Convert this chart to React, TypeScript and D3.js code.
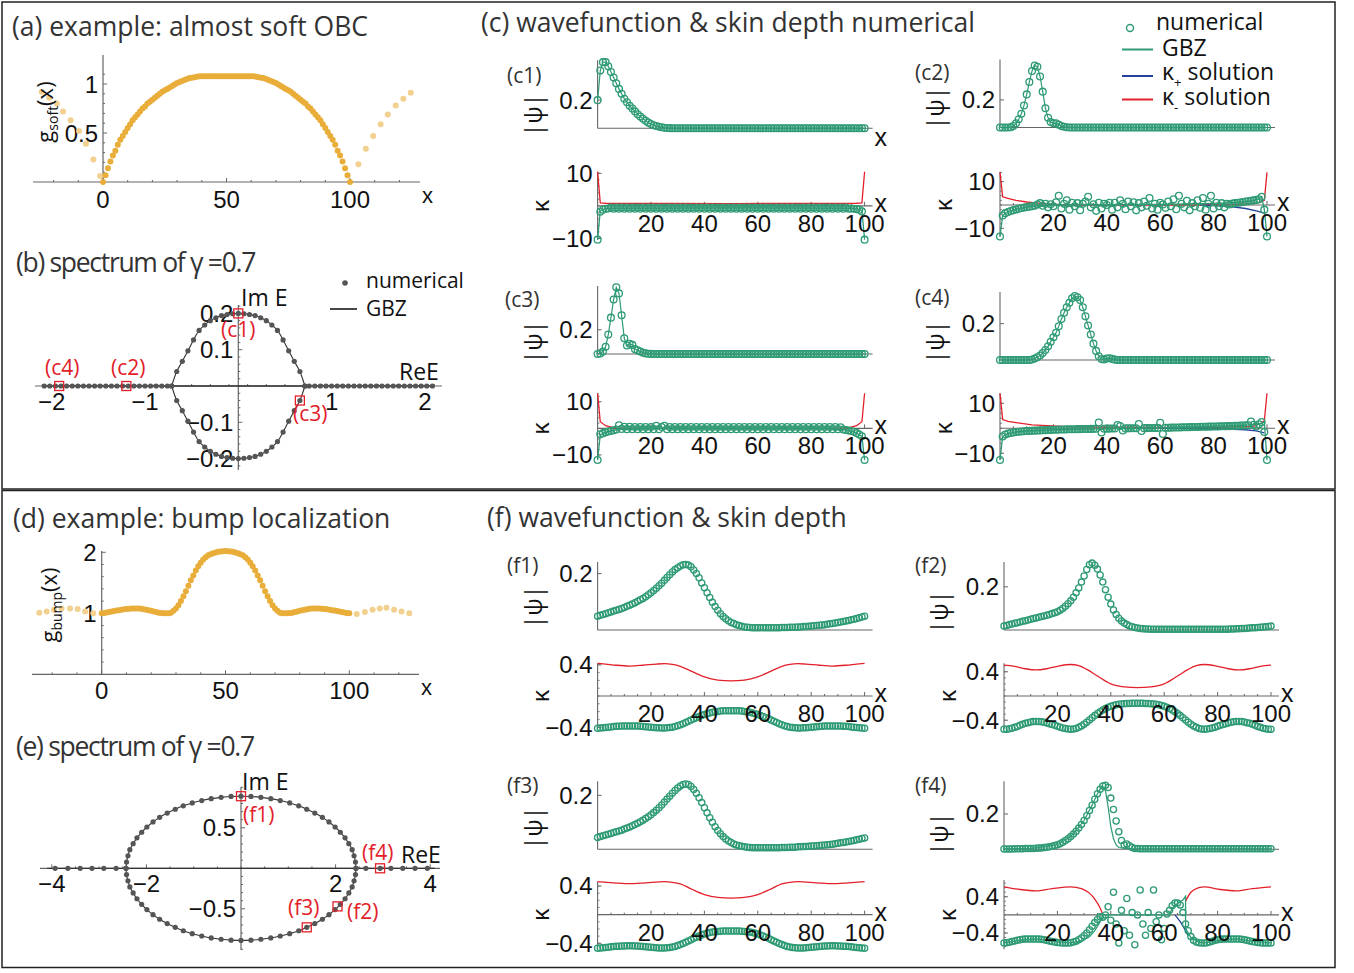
import React from "react";
import * as d3 from "d3";

type Pt = [number, number];

// lattice sites x = 0..100
const sites = d3.range(0, 101);

// ---------- (a) g_soft(x) ----------
const gSoft = [
  0, 0.07, 0.14, 0.21, 0.27, 0.32, 0.38, 0.43, 0.47, 0.51,
  0.55, 0.59, 0.63, 0.66, 0.69, 0.72, 0.75, 0.77, 0.8, 0.82,
  0.84, 0.86, 0.88, 0.9, 0.92, 0.935, 0.95, 0.965, 0.98, 0.995,
  1.01, 1.02, 1.03, 1.04, 1.05, 1.06, 1.065, 1.07, 1.075, 1.08,
  1.08, 1.08, 1.08, 1.08, 1.08, 1.08, 1.08, 1.08, 1.08, 1.08,
  1.08, 1.08, 1.08, 1.08, 1.08, 1.08, 1.08, 1.08, 1.08, 1.08,
  1.08, 1.08, 1.075, 1.07, 1.065, 1.06, 1.05, 1.04, 1.03, 1.02,
  1.01, 0.995, 0.98, 0.965, 0.95, 0.935, 0.92, 0.9, 0.88, 0.86,
  0.84, 0.82, 0.8, 0.77, 0.75, 0.72, 0.69, 0.66, 0.63, 0.59,
  0.55, 0.51, 0.47, 0.43, 0.38, 0.32, 0.27, 0.21, 0.14, 0.07,
  0,
];
const gSoftOutX = [-24.8, -21.8, -18.7, -16.2, -13.1, -9.7, -6.9, -3.9, -1.2, 103.4, 106.4, 109.4, 112.4, 115.3, 118.5, 121.6, 124.6];
const gSoftOutY = [0.92, 0.86, 0.8, 0.72, 0.63, 0.52, 0.39, 0.23, 0.06, 0.18, 0.34, 0.47, 0.59, 0.69, 0.78, 0.85, 0.91];

// ---------- (d) g_bump(x) ----------
const gBump = [
  1.0, 1.005, 1.012, 1.02, 1.028, 1.036, 1.044, 1.052, 1.06, 1.066,
  1.072, 1.076, 1.079, 1.08, 1.08, 1.078, 1.074, 1.068, 1.06, 1.05,
  1.04, 1.03, 1.02, 1.01, 1.004, 1.0, 1.0, 1.0, 1.01, 1.04,
  1.08, 1.13, 1.2, 1.28, 1.36, 1.45, 1.54, 1.62, 1.7, 1.77,
  1.83, 1.88, 1.92, 1.95, 1.97, 1.985, 1.997, 2.007, 2.014, 2.018,
  2.02, 2.018, 2.014, 2.007, 1.997, 1.985, 1.97, 1.95, 1.92, 1.88,
  1.83, 1.77, 1.7, 1.62, 1.54, 1.45, 1.36, 1.28, 1.2, 1.13,
  1.08, 1.04, 1.01, 1.0, 1.0, 1.0, 1.004, 1.01, 1.02, 1.03,
  1.04, 1.05, 1.06, 1.068, 1.074, 1.078, 1.08, 1.08, 1.079, 1.076,
  1.072, 1.066, 1.06, 1.052, 1.044, 1.036, 1.028, 1.02, 1.012, 1.005,
  1.0,
];
const gBumpOutX = [-25.2, -22.2, -19.3, -16.2, -12.8, -9.7, -6.7, -3.4, 103, 106.3, 109.4, 112.3, 115, 118.1, 121.1, 124.2];
const gBumpOutY = [1.01, 1.03, 1.06, 1.08, 1.08, 1.07, 1.03, 1.0, 0.99, 1.02, 1.06, 1.08, 1.09, 1.06, 1.03, 1.0];

// ---------- (b) spectrum, soft OBC ----------
const specBArcX = [-0.714, -0.66, -0.6, -0.54, -0.48, -0.42, -0.36, -0.3, -0.24, -0.18, -0.12, -0.06, 0, 0.06, 0.12, 0.18, 0.24, 0.3, 0.36, 0.42, 0.48, 0.54, 0.6, 0.66, 0.714];
const specBUpperY = [0, 0.04, 0.068, 0.097, 0.127, 0.153, 0.168, 0.18, 0.188, 0.194, 0.197, 0.199, 0.2, 0.199, 0.197, 0.194, 0.188, 0.18, 0.168, 0.153, 0.127, 0.097, 0.068, 0.04, 0];
const specBLowerY = [0, -0.04, -0.068, -0.097, -0.127, -0.153, -0.168, -0.18, -0.188, -0.194, -0.197, -0.199, -0.2, -0.199, -0.197, -0.194, -0.188, -0.18, -0.168, -0.153, -0.127, -0.097, -0.068, -0.04, 0];
const specBRealX = [
  -2.08, -2.02, -1.96, -1.9, -1.84, -1.78, -1.72, -1.66, -1.6, -1.54, -1.48, -1.42, -1.36, -1.3, -1.24, -1.18, -1.12, -1.06, -1.0, -0.94, -0.88, -0.82, -0.76,
  0.76, 0.82, 0.88, 0.94, 1.0, 1.06, 1.12, 1.18, 1.24, 1.3, 1.36, 1.42, 1.48, 1.54, 1.6, 1.66, 1.72, 1.78, 1.84, 1.9, 1.96, 2.02, 2.08,
];
const markBTags = ["(c1)", "(c2)", "(c3)", "(c4)"];
const markBX = [0, -1.2, 0.66, -1.92];
const markBY = [0.2, 0, -0.04, 0];

// ---------- (e) spectrum, bump ----------
const specEArcX = [-2.43, -2.42, -2.39, -2.35, -2.28, -2.2, -2.1, -1.99, -1.86, -1.72, -1.56, -1.39, -1.22, -1.03, -0.83, -0.63, -0.42, -0.21, 0, 0.21, 0.42, 0.63, 0.83, 1.03, 1.22, 1.39, 1.56, 1.72, 1.86, 1.99, 2.1, 2.2, 2.28, 2.35, 2.39, 2.42, 2.43];
const specEUpperY = [0, 0.078, 0.155, 0.23, 0.304, 0.376, 0.445, 0.51, 0.572, 0.629, 0.682, 0.729, 0.771, 0.807, 0.836, 0.86, 0.876, 0.887, 0.89, 0.887, 0.876, 0.86, 0.836, 0.807, 0.771, 0.729, 0.682, 0.629, 0.572, 0.51, 0.445, 0.376, 0.304, 0.23, 0.155, 0.078, 0];
const specELowerY = [0, -0.078, -0.155, -0.23, -0.304, -0.376, -0.445, -0.51, -0.572, -0.629, -0.682, -0.729, -0.771, -0.807, -0.836, -0.86, -0.876, -0.887, -0.89, -0.887, -0.876, -0.86, -0.836, -0.807, -0.771, -0.729, -0.682, -0.629, -0.572, -0.51, -0.445, -0.376, -0.304, -0.23, -0.155, -0.078, 0];
const specERealX = [-3.93, -3.66, -3.4, -3.15, -2.9, -2.64, 2.64, 2.94, 3.17, 3.42, 3.68, 3.94];
const markETags = ["(f1)", "(f2)", "(f3)", "(f4)"];
const markEX = [0, 2.04, 1.39, 2.94];
const markEY = [0.89, -0.47, -0.729, 0];

// ---------- (c) wavefunctions |psi| ----------
const psiC1 = [
  0.2, 0.41, 0.47, 0.47, 0.44, 0.4, 0.36, 0.32, 0.28, 0.245,
  0.21, 0.185, 0.16, 0.14, 0.12, 0.1, 0.083, 0.068, 0.053, 0.04,
  0.03, 0.022, 0.016, 0.011, 0.007, 0.004, 0.002, 0.001, 0, 0,
  0, 0, 0, 0, 0, 0, 0, 0, 0, 0,
  0, 0, 0, 0, 0, 0, 0, 0, 0, 0,
  0, 0, 0, 0, 0, 0, 0, 0, 0, 0,
  0, 0, 0, 0, 0, 0, 0, 0, 0, 0,
  0, 0, 0, 0, 0, 0, 0, 0, 0, 0,
  0, 0, 0, 0, 0, 0, 0, 0, 0, 0,
  0, 0, 0, 0, 0, 0, 0, 0, 0, 0,
  0,
];
const psiC2 = [
  0, 0, 0, 0, 0.002, 0.01, 0.03, 0.06, 0.1, 0.16,
  0.24, 0.33, 0.41, 0.45, 0.44, 0.37, 0.26, 0.14, 0.07, 0.04,
  0.03, 0.03, 0.02, 0.01, 0.005, 0.002, 0, 0, 0, 0,
  0, 0, 0, 0, 0, 0, 0, 0, 0, 0,
  0, 0, 0, 0, 0, 0, 0, 0, 0, 0,
  0, 0, 0, 0, 0, 0, 0, 0, 0, 0,
  0, 0, 0, 0, 0, 0, 0, 0, 0, 0,
  0, 0, 0, 0, 0, 0, 0, 0, 0, 0,
  0, 0, 0, 0, 0, 0, 0, 0, 0, 0,
  0, 0, 0, 0, 0, 0, 0, 0, 0, 0,
  0,
];
const psiC3 = [
  0, 0.005, 0.02, 0.06, 0.16, 0.3, 0.45, 0.55, 0.5, 0.32,
  0.13, 0.07, 0.085, 0.075, 0.04, 0.03, 0.02, 0.01, 0.005, 0.002,
  0.001, 0, 0, 0, 0, 0, 0, 0, 0, 0,
  0, 0, 0, 0, 0, 0, 0, 0, 0, 0,
  0, 0, 0, 0, 0, 0, 0, 0, 0, 0,
  0, 0, 0, 0, 0, 0, 0, 0, 0, 0,
  0, 0, 0, 0, 0, 0, 0, 0, 0, 0,
  0, 0, 0, 0, 0, 0, 0, 0, 0, 0,
  0, 0, 0, 0, 0, 0, 0, 0, 0, 0,
  0, 0, 0, 0, 0, 0, 0, 0, 0, 0,
  0,
];
const psiC4 = [
  0, 0, 0, 0, 0, 0, 0, 0, 0, 0,
  0, 0, 0.003, 0.008, 0.015, 0.025, 0.038, 0.055, 0.075, 0.1,
  0.125, 0.15, 0.185, 0.225, 0.26, 0.29, 0.315, 0.34, 0.352, 0.345,
  0.33, 0.29, 0.24, 0.19, 0.14, 0.09, 0.05, 0.02, 0.005, 0.003,
  0.008, 0.01, 0.006, 0.002, 0, 0, 0, 0, 0, 0,
  0, 0, 0, 0, 0, 0, 0, 0, 0, 0,
  0, 0, 0, 0, 0, 0, 0, 0, 0, 0,
  0, 0, 0, 0, 0, 0, 0, 0, 0, 0,
  0, 0, 0, 0, 0, 0, 0, 0, 0, 0,
  0, 0, 0, 0, 0, 0, 0, 0, 0, 0,
  0,
];

// ---------- (c) kappa, numerical ----------
const kC1 = [
  -10.4, -1.8, -1.2, -0.9, -0.8, -0.5, -0.9, -0.5, -0.9, -0.5,
  -0.9, -0.5, -0.9, -0.5, -0.9, -0.5, -0.9, -0.5, -0.9, -0.5,
  -0.9, -0.5, -0.9, -0.5, -0.9, -0.5, -0.9, -0.5, -0.9, -0.5,
  -0.9, -0.5, -0.9, -0.5, -0.9, -0.5, -0.9, -0.5, -0.9, -0.5,
  -0.9, -0.5, -0.9, -0.5, -0.9, -0.5, -0.9, -0.5, -0.9, -0.5,
  -0.9, -0.5, -0.9, -0.5, -0.9, -0.5, -0.9, -0.5, -0.9, -0.5,
  -0.9, -0.5, -0.9, -0.5, -0.9, -0.5, -0.9, -0.5, -0.9, -0.5,
  -0.9, -0.5, -0.9, -0.5, -0.9, -0.5, -0.9, -0.5, -0.9, -0.5,
  -0.9, -0.5, -0.9, -0.5, -0.9, -0.5, -0.9, -0.5, -0.9, -0.5,
  -0.9, -0.5, -0.9, -0.5, -0.9, -0.8, -0.9, -1.0, -1.2, -1.7,
  -10.4,
];
const kC2 = [
  -13.5, -4.5, -3.5, -3, -2.6, -2.2, -1.9, -1.6, -1.3, -1.1,
  -0.9, -0.7, -0.5, -0.3, 0.2, 0.8, -0.3, 0.5, -1, 0.3,
  -0.5, 1.2, 4, -1.5, 0.5, 2, -2, 1, -0.5, 0.8,
  -2.2, 0.5, 1.5, 3.5, -1, 0.3, -2.5, 1, -1.5, 0.5,
  0, 1, -2, 1, -1, 2, 0.5, -1.8, 1.5, -0.5,
  1.2, -2.3, 0.8, -1, 1.5, -0.3, 3, -1.5, 0.5, -2,
  1, 0.2, -1.2, 1.5, -0.5, 2.5, -1.8, 4, 0.5, -1,
  1.8, -2.3, 0.8, -0.5, 2, -1.2, 3, -2, 0.5, 4,
  -1.5, 1, -0.5, 0.8, -1, 0.5, 0.2, 0.6, 0.8, 1,
  1.1, 1.3, 1.5, 1.6, 1.8, 2, 2.2, 2.5, 3.5, -2,
  -13.5,
];
const kC3 = [
  -11.9, -2.2, -1.8, -1.5, -1.2, -1, -0.7, -0.4, 1.2, -0.2,
  0.6, -0.3, 0.6, -0.3, 0.5, -0.3, 0.5, -0.3, 0.5, -0.3,
  0.5, -0.3, 1, -0.3, 0.5, 1, -0.3, 0.5, -0.3, 0.5,
  -0.3, 0.5, -0.3, 0.5, -0.3, 0.5, -0.3, 0.5, -0.3, 0.5,
  -0.3, 0.5, -0.3, 0.5, -0.3, 0.5, -0.3, 0.5, -0.3, 0.5,
  -0.3, 0.5, -0.3, 0.5, -0.3, 0.5, -0.3, 0.5, -0.3, 0.5,
  -0.3, 0.5, -0.3, 0.5, -0.3, 0.5, -0.3, 0.5, -0.3, 0.5,
  -0.3, 0.5, -0.3, 0.5, -0.3, 0.5, -0.3, 0.5, -0.3, 0.5,
  -0.3, 0.5, -0.3, 0.5, -0.3, 0.5, -0.3, 0.5, -0.3, 0.5,
  -0.3, 0.4, -0.4, -0.6, -0.8, -1, -1.3, -1.7, -2.3, -3,
  -11.9,
];
const kC4 = [
  -12.7, -3.3, -2.5, -2.1, -1.9, -1.7, -1.5, -1.4, -1.3, -1.2,
  -1.1, -1.05, -1, -0.95, -0.9, -0.85, -0.8, -0.75, -0.7, -0.65,
  -0.6, -0.57, -0.54, -0.5, -0.47, -0.44, -0.42, -0.4, -0.38, -0.36,
  -0.34, -0.32, -0.3, -0.28, -0.26, -0.24, -0.22, 2.3, -1.7, -0.18,
  -0.16, -0.14, -0.12, -0.1, 1.3, 0.9, -0.9, -0.06, -0.04, -0.02,
  0, 0.02, 1.7, -1.1, 0.05, 0.07, 0.09, 0.11, 0.13, 0.15,
  2.2, -2.3, 0.2, 0.22, 0.25, 0.28, 0.3, 0.33, 0.36, 0.39,
  0.42, 0.45, 0.48, 0.5, 0.53, 0.56, 0.59, 0.62, 0.65, 0.68,
  0.7, 0.73, 0.76, 0.79, 0.82, 0.85, 0.88, 0.91, 0.95, 1,
  1.05, 1.1, 1.15, 1.2, 2.7, 1.4, 0.7, 1.6, 2.5, -1.5,
  -12.7,
];

// ---------- (c) kappa, GBZ and kappa_pm solutions ----------
const gbzC1: Pt[] = [[0, -10.4], [1, -1.5], [3, -0.8], [50, -0.6], [97, -0.8], [99, -1.5], [100, -10.4]];
const minusC1: Pt[] = [[0, 10.5], [1, 0.9], [3, 0.8], [50, 0.7], [97, 0.8], [99, 0.9], [100, 10.5]];
const gbzC2: Pt[] = [[0, -13.5], [1, -4.5], [3, -3], [6, -1.9], [10, -0.9], [15, -0.3], [20, 0], [60, 0.3], [80, 0.7], [90, 1.1], [95, 2], [97, 2.5], [98, 3.5], [99, -2], [100, -13.5]];
const minusC2: Pt[] = [[0, 14], [1, 3.5], [3, 2.8], [6, 2], [10, 1.3], [15, 0.7], [20, 0.3], [25, 0], [75, 0], [85, 0.2], [92, 0.5], [97, 1], [99, 2], [100, 14]];
const plusC2: Pt[] = [[75, 0], [85, -0.5], [92, -1.5], [96, -2.5], [99, -3.5]];
const gbzC3: Pt[] = [[0, -11.9], [1, -2.5], [3, -1.5], [6, -0.7], [10, -0.2], [20, 0], [85, 0], [92, -0.5], [96, -1.2], [99, -3], [100, -11.9]];
const minusC3: Pt[] = [[0, 13.2], [1, 2.5], [3, 1], [6, 0.2], [10, 0], [90, 0], [94, 0.2], [97, 1], [99, 2.5], [100, 13.2]];
const gbzC4: Pt[] = [[0, -12.7], [1, -3.3], [3, -2.1], [6, -1.5], [10, -1.1], [20, -0.6], [30, -0.35], [45, -0.1], [55, 0], [70, 0.5], [80, 0.8], [90, 1.2], [95, 1.5], [98, 2], [99, 2.5], [100, -12.7]];
const minusC4: Pt[] = [[0, 14], [1, 3.5], [3, 2.8], [6, 2.3], [12, 1.4], [25, 0.7], [37, 0.5], [60, 0.3], [80, 0.3], [95, 0.8], [98, 2.2], [99, 3], [100, 14]];
const plusC4: Pt[] = [[60, 0], [75, -0.1], [85, -0.3], [92, -0.6], [96, -1], [99, -1.8]];

// ---------- (f) wavefunctions |psi| ----------
const psiF1 = [
  0.049, 0.052, 0.055, 0.058, 0.061, 0.064, 0.067, 0.07, 0.073, 0.076,
  0.08, 0.084, 0.088, 0.092, 0.097, 0.102, 0.107, 0.112, 0.118, 0.125,
  0.132, 0.14, 0.148, 0.157, 0.166, 0.176, 0.186, 0.196, 0.206, 0.214,
  0.221, 0.227, 0.231, 0.232, 0.23, 0.224, 0.213, 0.2, 0.185, 0.167,
  0.15, 0.132, 0.115, 0.098, 0.083, 0.07, 0.058, 0.048, 0.04, 0.033,
  0.027, 0.023, 0.019, 0.016, 0.013, 0.011, 0.01, 0.009, 0.008, 0.008,
  0.008, 0.008, 0.008, 0.008, 0.008, 0.008, 0.008, 0.008, 0.008, 0.009,
  0.009, 0.009, 0.01, 0.01, 0.01, 0.011, 0.011, 0.012, 0.012, 0.013,
  0.014, 0.015, 0.016, 0.017, 0.018, 0.019, 0.02, 0.022, 0.023, 0.025,
  0.027, 0.028, 0.03, 0.032, 0.034, 0.036, 0.038, 0.041, 0.043, 0.046,
  0.049,
];
const psiF2 = [
  0.018, 0.021, 0.025, 0.028, 0.031, 0.034, 0.037, 0.04, 0.043, 0.046,
  0.05, 0.053, 0.056, 0.059, 0.062, 0.065, 0.068, 0.072, 0.076, 0.08,
  0.085, 0.092, 0.1, 0.11, 0.122, 0.135, 0.152, 0.172, 0.195, 0.222,
  0.25, 0.28, 0.302, 0.31, 0.3, 0.282, 0.255, 0.222, 0.187, 0.152,
  0.12, 0.093, 0.072, 0.055, 0.042, 0.032, 0.025, 0.019, 0.015, 0.012,
  0.009, 0.007, 0.006, 0.005, 0.005, 0.004, 0.004, 0.004, 0.003, 0.003,
  0.003, 0.003, 0.003, 0.003, 0.003, 0.003, 0.003, 0.003, 0.003, 0.003,
  0.003, 0.003, 0.003, 0.003, 0.003, 0.003, 0.003, 0.003, 0.003, 0.003,
  0.003, 0.003, 0.004, 0.004, 0.004, 0.005, 0.005, 0.006, 0.006, 0.007,
  0.007, 0.008, 0.009, 0.01, 0.011, 0.012, 0.013, 0.014, 0.015, 0.016,
  0.018,
];
const psiF3 = [
  0.044, 0.047, 0.05, 0.053, 0.056, 0.059, 0.062, 0.065, 0.068, 0.071,
  0.075, 0.079, 0.083, 0.087, 0.092, 0.097, 0.102, 0.108, 0.114, 0.121,
  0.128, 0.136, 0.145, 0.154, 0.164, 0.175, 0.186, 0.197, 0.208, 0.218,
  0.227, 0.235, 0.24, 0.242, 0.24, 0.233, 0.222, 0.208, 0.191, 0.173,
  0.154, 0.135, 0.117, 0.1, 0.084, 0.07, 0.058, 0.047, 0.038, 0.031,
  0.025, 0.02, 0.016, 0.013, 0.011, 0.009, 0.008, 0.007, 0.006, 0.006,
  0.006, 0.006, 0.006, 0.006, 0.006, 0.006, 0.006, 0.006, 0.006, 0.007,
  0.007, 0.007, 0.008, 0.008, 0.008, 0.009, 0.009, 0.01, 0.01, 0.011,
  0.012, 0.012, 0.013, 0.014, 0.015, 0.016, 0.017, 0.018, 0.019, 0.021,
  0.022, 0.024, 0.025, 0.027, 0.029, 0.031, 0.033, 0.035, 0.037, 0.04,
  0.042,
];
const psiF4 = [
  0.002, 0.002, 0.002, 0.002, 0.003, 0.003, 0.003, 0.003, 0.004, 0.004,
  0.005, 0.005, 0.006, 0.007, 0.008, 0.01, 0.012, 0.014, 0.017, 0.021,
  0.026, 0.032, 0.04, 0.05, 0.06, 0.072, 0.086, 0.102, 0.12, 0.14,
  0.163, 0.19, 0.22, 0.25, 0.283, 0.315, 0.34, 0.358, 0.362, 0.35,
  0.29, 0.225, 0.16, 0.1, 0.05, 0.025, 0.03, 0.02, 0.01, 0.005,
  0.004, 0.003, 0.003, 0.003, 0.003, 0.003, 0.003, 0.003, 0.003, 0.003,
  0.003, 0.003, 0.003, 0.003, 0.003, 0.003, 0.003, 0.003, 0.003, 0.003,
  0.003, 0.003, 0.003, 0.003, 0.003, 0.003, 0.003, 0.003, 0.003, 0.003,
  0.003, 0.003, 0.003, 0.003, 0.003, 0.003, 0.003, 0.003, 0.003, 0.003,
  0.003, 0.003, 0.003, 0.003, 0.003, 0.003, 0.003, 0.003, 0.003, 0.003,
  0.003,
];
const psiGbzF4: Pt[] = [[0, 0.002], [10, 0.005], [20, 0.026], [25, 0.072], [30, 0.163], [33, 0.25], [35, 0.315], [36, 0.34], [37, 0.355], [38, 0.33], [39, 0.24], [40, 0.13], [41, 0.06], [42, 0.025], [43, 0.01], [46, 0.004], [100, 0.003]];

// ---------- (f) kappa, numerical ----------
const kF1 = [
  -0.415, -0.412, -0.409, -0.405, -0.401, -0.397, -0.393, -0.39, -0.388, -0.386,
  -0.385, -0.384, -0.384, -0.384, -0.385, -0.387, -0.389, -0.392, -0.395, -0.398,
  -0.401, -0.404, -0.407, -0.409, -0.41, -0.41, -0.409, -0.406, -0.4, -0.392,
  -0.382, -0.37, -0.356, -0.341, -0.325, -0.309, -0.293, -0.278, -0.264, -0.251,
  -0.239, -0.228, -0.218, -0.21, -0.203, -0.198, -0.194, -0.191, -0.19, -0.19,
  -0.19, -0.19, -0.19, -0.191, -0.194, -0.198, -0.203, -0.21, -0.218, -0.228,
  -0.239, -0.251, -0.264, -0.278, -0.293, -0.309, -0.325, -0.341, -0.356, -0.37,
  -0.382, -0.392, -0.4, -0.406, -0.409, -0.41, -0.41, -0.409, -0.407, -0.404,
  -0.401, -0.398, -0.395, -0.392, -0.389, -0.387, -0.385, -0.384, -0.384, -0.384,
  -0.385, -0.386, -0.388, -0.39, -0.393, -0.397, -0.401, -0.405, -0.409, -0.412,
  -0.415,
];
const kF2 = [
  -0.55, -0.548, -0.542, -0.532, -0.518, -0.502, -0.485, -0.468, -0.452, -0.44,
  -0.43, -0.423, -0.42, -0.421, -0.425, -0.433, -0.444, -0.457, -0.47, -0.485,
  -0.5, -0.515, -0.528, -0.538, -0.545, -0.548, -0.545, -0.535, -0.518, -0.494,
  -0.465, -0.432, -0.396, -0.36, -0.324, -0.29, -0.259, -0.231, -0.207, -0.187,
  -0.17, -0.156, -0.145, -0.137, -0.131, -0.127, -0.124, -0.122, -0.121, -0.12,
  -0.12, -0.12, -0.121, -0.122, -0.124, -0.127, -0.131, -0.137, -0.145, -0.156,
  -0.17, -0.187, -0.207, -0.231, -0.259, -0.29, -0.324, -0.36, -0.396, -0.432,
  -0.465, -0.494, -0.518, -0.535, -0.545, -0.548, -0.545, -0.538, -0.528, -0.515,
  -0.5, -0.485, -0.47, -0.457, -0.444, -0.433, -0.425, -0.421, -0.42, -0.423,
  -0.43, -0.44, -0.452, -0.468, -0.485, -0.502, -0.518, -0.532, -0.542, -0.548,
  -0.55,
];
const kF3 = [
  -0.47, -0.467, -0.463, -0.459, -0.454, -0.45, -0.446, -0.443, -0.44, -0.438,
  -0.437, -0.436, -0.436, -0.436, -0.437, -0.439, -0.441, -0.444, -0.448, -0.452,
  -0.456, -0.46, -0.463, -0.465, -0.466, -0.466, -0.464, -0.46, -0.453, -0.444,
  -0.432, -0.418, -0.402, -0.385, -0.367, -0.349, -0.331, -0.314, -0.298, -0.284,
  -0.271, -0.26, -0.251, -0.244, -0.238, -0.234, -0.231, -0.229, -0.228, -0.228,
  -0.228, -0.228, -0.228, -0.229, -0.231, -0.234, -0.238, -0.244, -0.251, -0.26,
  -0.271, -0.284, -0.298, -0.314, -0.331, -0.349, -0.367, -0.385, -0.402, -0.418,
  -0.432, -0.444, -0.453, -0.46, -0.464, -0.466, -0.466, -0.465, -0.463, -0.46,
  -0.456, -0.452, -0.448, -0.444, -0.441, -0.439, -0.437, -0.436, -0.436, -0.436,
  -0.437, -0.438, -0.44, -0.443, -0.446, -0.45, -0.454, -0.459, -0.463, -0.467,
  -0.47,
];
const kF4 = [
  -0.62, -0.615, -0.605, -0.59, -0.575, -0.56, -0.55, -0.54, -0.535, -0.53,
  -0.53, -0.53, -0.53, -0.535, -0.54, -0.55, -0.56, -0.575, -0.59, -0.6,
  -0.61, -0.615, -0.62, -0.62, -0.62, -0.615, -0.6, -0.58, -0.55, -0.51,
  -0.46, -0.4, -0.33, -0.25, -0.17, -0.1, -0.04, -0.05, 0.0, 0.18,
  -0.12, 0.5, -0.2, -0.62, 0.1, -0.35, 0.36, -0.45, 0.05, -0.66,
  0.0, 0.55, -0.2, -0.45, 0.05, -0.3, 0.55, -0.15, 0.0, -0.55,
  -0.3, 0.02, 0.1, 0.2, 0.26, 0.26, 0.22, 0.05, -0.2, -0.35,
  -0.48, -0.56, -0.6, -0.615, -0.62, -0.62, -0.615, -0.6, -0.58, -0.56,
  -0.55, -0.54, -0.535, -0.53, -0.53, -0.53, -0.53, -0.53, -0.535, -0.54,
  -0.55, -0.56, -0.575, -0.59, -0.6, -0.61, -0.615, -0.62, -0.62, -0.62,
  -0.62,
];

// ---------- (f) kappa_- solution (red), GBZ, kappa_+ ----------
const minusF1: Pt[] = [[0, 0.42], [3, 0.41], [7, 0.395], [12, 0.385], [17, 0.395], [22, 0.41], [25, 0.415], [28, 0.405], [31, 0.38], [35, 0.32], [40, 0.245], [45, 0.205], [50, 0.195], [55, 0.205], [60, 0.245], [65, 0.32], [69, 0.38], [72, 0.405], [75, 0.415], [78, 0.41], [83, 0.395], [88, 0.385], [93, 0.395], [97, 0.41], [100, 0.42]];
const minusF2: Pt[] = [[0, 0.51], [4, 0.49], [8, 0.45], [12, 0.43], [16, 0.45], [20, 0.49], [25, 0.52], [28, 0.5], [31, 0.44], [35, 0.33], [40, 0.2], [45, 0.15], [50, 0.137], [55, 0.15], [60, 0.2], [65, 0.33], [69, 0.44], [72, 0.5], [75, 0.52], [80, 0.49], [84, 0.45], [88, 0.43], [92, 0.45], [96, 0.49], [100, 0.51]];
const minusF3: Pt[] = [[0, 0.46], [6, 0.445], [12, 0.432], [18, 0.445], [25, 0.46], [28, 0.452], [31, 0.43], [35, 0.36], [40, 0.28], [45, 0.24], [50, 0.23], [55, 0.24], [60, 0.28], [65, 0.36], [69, 0.43], [72, 0.452], [75, 0.46], [82, 0.445], [88, 0.432], [94, 0.445], [100, 0.46]];
const minusF4a: Pt[] = [[0, 0.62], [6, 0.56], [12, 0.53], [18, 0.58], [25, 0.62], [29, 0.58], [32, 0.48], [34, 0.35], [36, 0.15], [37, 0]];
const minusF4b: Pt[] = [[68, 0.3], [70, 0.5], [73, 0.6], [75, 0.62], [81, 0.56], [87, 0.53], [93, 0.58], [100, 0.62]];
const gbzF4: Pt[] = [[0, -0.62], [6, -0.56], [12, -0.53], [18, -0.58], [25, -0.62], [29, -0.58], [32, -0.48], [34, -0.35], [36, -0.15], [37, 0], [62, 0], [63, 0.15], [65, 0.25], [67, 0.33], [68, 0.41], [68, -0.3], [70, -0.5], [73, -0.6], [75, -0.62], [81, -0.56], [87, -0.53], [93, -0.58], [100, -0.62]];
const plusF4: Pt[] = [[64, 0], [66, -0.15], [68, -0.35], [69, -0.46]];

// ---------- styling ----------
const SANS = "'Open Sans', 'Noto Sans', sans-serif";
const NUM = "'Liberation Sans', Arial, sans-serif";
const GREEN = "#2e9b74";
const RED = "#e3202a";
const BLUE = "#23409a";
const GOLD = "#e9ad3a";
const GOLD_FADE = "#f2d08f";
const AXIS = "#666";
const INK = "#111";
const TITLE = "#333";
const DOT = "#555";

const fmt = (v: number) => (v < 0 ? "\u2212" : "") + Math.abs(v);

// ---------- (a)/(d) potential panels ----------
function GPanel({ vals, outX, outY, x, y, xLeft, xRight, yTop, yTicks, yMinor, sub, labelX, labelY, tickBase, xLabelBase }: any) {
  const x0 = x(0);
  const y0 = y(0);
  return (
    <g>
      <line x1={xLeft} x2={xRight} y1={y0} y2={y0} stroke={AXIS} strokeWidth={1.2} />
      <line x1={x0} x2={x0} y1={yTop} y2={y0} stroke={AXIS} strokeWidth={1.2} />
      {d3.range(-20, 121, 10).map((t) => (
        <line key={"xm" + t} x1={x(t)} x2={x(t)} y1={y0} y2={y0 - (t % 50 === 0 ? 4 : 2)} stroke={AXIS} />
      ))}
      {yMinor.map((t: number) => (
        <line key={"ym" + t} x1={x0} x2={x0 + (yTicks.includes(t) ? 4 : 2)} y1={y(t)} y2={y(t)} stroke={AXIS} />
      ))}
      {[0, 50, 100].map((t) => (
        <text key={"xl" + t} x={x(t)} y={tickBase} textAnchor="middle" fontFamily={NUM} fontSize={24} fill={INK}>{t}</text>
      ))}
      {yTicks.map((t: number) => (
        <text key={"yl" + t} x={x0 - 5} y={y(t)} textAnchor="end" dominantBaseline="central" fontFamily={NUM} fontSize={24} fill={INK}>{t}</text>
      ))}
      <text x={xRight + 2} y={xLabelBase} fontFamily={NUM} fontSize={22} fill={INK}>x</text>
      {outX.map((v: number, i: number) => (
        <circle key={"o" + i} cx={x(v)} cy={y(outY[i])} r={3} fill={GOLD_FADE} />
      ))}
      {vals.map((v: number, i: number) => (
        <circle key={"d" + i} cx={x(sites[i])} cy={y(v)} r={3} fill={GOLD} />
      ))}
      <text transform={`translate(${labelX},${labelY}) rotate(-90)`} textAnchor="middle" fontFamily={SANS} fontSize={22} fill={INK}>
        g<tspan fontSize={14} dy={5}>{sub}</tspan><tspan dy={-5}>(x)</tspan>
      </text>
    </g>
  );
}

// ---------- (b)/(e) spectrum panels ----------
function Spectrum({ x, y, xAxis, yAxis, arcX, upY, lowY, realX, realLine, xTicks, xMinor, yTicks, yMinor, tickBase, tags, mx, my, tagPos, imPos, rePos, legend }: any) {
  const x0 = x(0);
  const y0 = y(0);
  const arc = d3.line<Pt>().x((d) => x(d[0])).y((d) => y(d[1])).curve(d3.curveCatmullRom);
  const up: Pt[] = arcX.map((v: number, i: number) => [v, upY[i]]);
  const low: Pt[] = arcX.map((v: number, i: number) => [v, lowY[i]]);
  return (
    <g>
      <line x1={xAxis[0]} x2={xAxis[1]} y1={y0} y2={y0} stroke={AXIS} strokeWidth={1.2} />
      <line x1={x0} x2={x0} y1={yAxis[0]} y2={yAxis[1]} stroke={AXIS} strokeWidth={1.2} />
      {xMinor.map((t: number, i: number) => (
        <line key={"xm" + i} x1={x(t)} x2={x(t)} y1={y0} y2={y0 - (xTicks.some((v: number) => Math.abs(v - t) < 1e-6) ? 4 : 2)} stroke={AXIS} />
      ))}
      {yMinor.map((t: number, i: number) => (
        <line key={"ym" + i} x1={x0} x2={x0 + (yTicks.some((v: number) => Math.abs(v - t) < 1e-6) ? 4 : 2)} y1={y(t)} y2={y(t)} stroke={AXIS} />
      ))}
      {xTicks.map((t: number) => (
        <text key={"xl" + t} x={x(t)} y={tickBase} textAnchor="middle" fontFamily={NUM} fontSize={24} fill={INK}>{fmt(t)}</text>
      ))}
      {yTicks.map((t: number) => (
        <text key={"yl" + t} x={x0 - 5} y={y(t)} textAnchor="end" dominantBaseline="central" fontFamily={NUM} fontSize={24} fill={INK}>{fmt(t)}</text>
      ))}
      <path d={arc(up) || ""} fill="none" stroke="#333" strokeWidth={1.1} />
      <path d={arc(low) || ""} fill="none" stroke="#333" strokeWidth={1.1} />
      <line x1={x(realLine[0])} x2={x(realLine[1])} y1={y0} y2={y0} stroke="#333" strokeWidth={1.3} />
      {up.concat(low).map((d, i) => (
        <circle key={"a" + i} cx={x(d[0])} cy={y(d[1])} r={2.6} fill={DOT} />
      ))}
      {realX.map((v: number, i: number) => (
        <circle key={"r" + i} cx={x(v)} cy={y0} r={2.6} fill={DOT} />
      ))}
      {tags.map((t: string, i: number) => (
        <g key={t}>
          <rect x={x(mx[i]) - 4.5} y={y(my[i]) - 4.5} width={9} height={9} fill="none" stroke={RED} strokeWidth={1.3} />
          <text x={tagPos[i][0]} y={tagPos[i][1]} fontFamily={SANS} fontSize={21} fill={RED}>{t}</text>
        </g>
      ))}
      <text x={imPos[0]} y={imPos[1]} fontFamily={SANS} fontSize={23} fill={INK}>Im E</text>
      <text x={rePos[0]} y={rePos[1]} fontFamily={SANS} fontSize={23} fill={INK}>ReE</text>
      {legend && (
        <g fontFamily={SANS} fontSize={21} fill={INK}>
          <circle cx={345} cy={283} r={2.8} fill={DOT} />
          <text x={366} y={288}>numerical</text>
          <line x1={330} x2={357} y1={309} y2={309} stroke="#333" strokeWidth={1.8} />
          <text x={366} y={316}>GBZ</text>
        </g>
      )}
    </g>
  );
}

// ---------- (c)/(f) wavefunction + kappa panels ----------
function WavePanel({ c }: any) {
  const x = d3.scaleLinear().domain([0, 100]).range([c.x0, c.x0 + 267]);
  const yp = d3.scaleLinear().domain([0, c.psiMax]).range([c.psiBase, c.psiBase - 68]);
  const yk = d3.scaleLinear().domain(c.kDom).range([c.kBottom, c.kTop]);
  const z = yk(0);
  const xEnd = x(103);
  const psiPts: Pt[] = c.psi.map((v: number, i: number) => [sites[i], v]);
  const kPts: Pt[] = c.kNum.map((v: number, i: number) => [sites[i], v]);
  const pLine = d3.line<Pt>().x((d) => x(d[0])).y((d) => yp(d[1]));
  const kLin = d3.line<Pt>().x((d) => x(d[0])).y((d) => yk(d[1]));
  const kSmooth = d3.line<Pt>().x((d) => x(d[0])).y((d) => yk(d[1])).curve(d3.curveMonotoneX);
  const psiLinePts: Pt[] | null = c.psiLine === "num" ? psiPts : c.psiLine || null;
  const kMinor = d3.range(Math.ceil(c.kDom[0] / c.kMinor) * c.kMinor, c.kDom[1], c.kMinor);
  return (
    <g>
      {/* psi axes */}
      <line x1={c.x0} x2={xEnd} y1={c.psiBase} y2={c.psiBase} stroke={AXIS} strokeWidth={1.1} />
      <line x1={c.x0} x2={c.x0} y1={c.psiBase - 68} y2={c.psiBase} stroke={AXIS} strokeWidth={1.1} />
      <line x1={c.x0} x2={c.x0 + 4} y1={yp(0.2)} y2={yp(0.2)} stroke={AXIS} />
      <text x={c.x0 - 5} y={yp(0.2)} textAnchor="end" dominantBaseline="central" fontFamily={NUM} fontSize={24} fill={INK}>0.2</text>
      <text transform={`translate(${c.x0 - 56},${c.psiLabelY}) rotate(-90)`} textAnchor="middle" fontFamily={SANS} fontSize={23} fill={INK}>|ψ|</text>
      {c.showPsiX && <text x={xEnd + 2} y={c.psiBase + 18} fontFamily={NUM} fontSize={25} fill={INK}>x</text>}
      <text x={c.tagX} y={c.tagY} fontFamily={SANS} fontSize={21} fill={TITLE}>{c.tag}</text>

      {/* kappa axes */}
      <line x1={c.x0} x2={xEnd} y1={z} y2={z} stroke={AXIS} strokeWidth={1.1} />
      <line x1={c.x0} x2={c.x0} y1={c.kTop} y2={c.kBottom} stroke={AXIS} strokeWidth={1.1} />
      {d3.range(5, 101, 5).map((t) => (
        <line key={"xm" + t} x1={x(t)} x2={x(t)} y1={z} y2={z - (t % 20 === 0 ? 4 : 2)} stroke={AXIS} />
      ))}
      {kMinor.map((t: number, i: number) => (
        <line key={"km" + i} x1={c.x0} x2={c.x0 + 2} y1={yk(t)} y2={yk(t)} stroke={AXIS} strokeWidth={0.8} />
      ))}
      {c.kTicks.map((t: number) => (
        <g key={"kt" + t}>
          <line x1={c.x0} x2={c.x0 + 4} y1={yk(t)} y2={yk(t)} stroke={AXIS} />
          <text x={c.x0 - 5} y={yk(t)} textAnchor="end" dominantBaseline="central" fontFamily={NUM} fontSize={24} fill={INK}>{fmt(t)}</text>
        </g>
      ))}
      <text transform={`translate(${c.x0 - 58},${z}) rotate(-90)`} textAnchor="middle" dominantBaseline="central" fontFamily={SANS} fontSize={24} fill={INK}>κ</text>
      <text x={xEnd + 2} y={z + 6} fontFamily={NUM} fontSize={25} fill={INK}>x</text>

      {/* data: psi */}
      {psiLinePts && <path d={pLine(psiLinePts) || ""} fill="none" stroke={GREEN} strokeWidth={1.2} />}
      {psiPts.map((d, i) => (
        <circle key={"p" + i} cx={x(d[0])} cy={yp(d[1])} r={c.r} fill="none" stroke={GREEN} strokeWidth={1.3} />
      ))}

      {/* data: kappa */}
      {c.kMinus.map((seg: Pt[], i: number) => (
        <path key={"km-" + i} d={(c.smooth ? kSmooth(seg) : kLin(seg)) || ""} fill="none" stroke={RED} strokeWidth={1.3} />
      ))}
      {c.kPlus.map((seg: Pt[], i: number) => (
        <path key={"kp-" + i} d={(c.smooth ? kSmooth(seg) : kLin(seg)) || ""} fill="none" stroke={BLUE} strokeWidth={1.3} />
      ))}
      {c.kGbz.map((seg: Pt[], i: number) => (
        <path key={"kg-" + i} d={kLin(seg) || ""} fill="none" stroke={GREEN} strokeWidth={1.3} />
      ))}
      {kPts.map((d, i) => (
        <circle key={"k" + i} cx={x(d[0])} cy={yk(d[1])} r={c.r} fill="none" stroke={GREEN} strokeWidth={1.3} />
      ))}

      {[20, 40, 60, 80, 100].map((t) => (
        <text key={"xl" + t} x={x(t)} y={z + 26} textAnchor="middle" fontFamily={NUM} fontSize={24} fill={INK}>{t}</text>
      ))}
    </g>
  );
}

const waves = [
  { tag: "(c1)", tagX: 507, tagY: 83, x0: 597.6, psiBase: 128.3, psiMax: 0.483, psiLabelY: 115, kTop: 171.7, kBottom: 240, kDom: [-10.5, 10.5], kTicks: [10, -10], kMinor: 2, psi: psiC1, psiLine: "num", kNum: kC1, kGbz: [gbzC1], kMinus: [minusC1], kPlus: [], r: 3.4, showPsiX: true, smooth: false },
  { tag: "(c2)", tagX: 915, tagY: 80, x0: 1000, psiBase: 127.5, psiMax: 0.493, psiLabelY: 108, kTop: 171.7, kBottom: 236.7, kDom: [-13.6, 14.3], kTicks: [10, -10], kMinor: 2, psi: psiC2, psiLine: "num", kNum: kC2, kGbz: [gbzC2], kMinus: [minusC2], kPlus: [plusC2], r: 3.4, showPsiX: false, smooth: false },
  { tag: "(c3)", tagX: 505, tagY: 306.7, x0: 597.6, psiBase: 354, psiMax: 0.561, psiLabelY: 342, kTop: 393.3, kBottom: 460, kDom: [-11.9, 13.2], kTicks: [10, -10], kMinor: 2, psi: psiC3, psiLine: "num", kNum: kC3, kGbz: [gbzC3], kMinus: [minusC3], kPlus: [], r: 3.4, showPsiX: false, smooth: false },
  { tag: "(c4)", tagX: 915, tagY: 305, x0: 1000, psiBase: 360, psiMax: 0.374, psiLabelY: 342, kTop: 393.3, kBottom: 460, kDom: [-12.7, 14], kTicks: [10, -10], kMinor: 2, psi: psiC4, psiLine: "num", kNum: kC4, kGbz: [gbzC4], kMinus: [minusC4], kPlus: [plusC4], r: 3.4, showPsiX: false, smooth: false },
  { tag: "(f1)", tagX: 507, tagY: 573, x0: 597.6, psiBase: 630, psiMax: 0.241, psiLabelY: 607, kTop: 663.3, kBottom: 728.3, kDom: [-0.415, 0.42], kTicks: [0.4, -0.4], kMinor: 0.1, psi: psiF1, psiLine: null, kNum: kF1, kGbz: [], kMinus: [minusF1], kPlus: [], r: 3.1, showPsiX: false, smooth: true },
  { tag: "(f2)", tagX: 915, tagY: 573, x0: 1004, psiBase: 630, psiMax: 0.315, psiLabelY: 612, kTop: 663.3, kBottom: 729.3, kDom: [-0.55, 0.54], kTicks: [0.4, -0.4], kMinor: 0.1, psi: psiF2, psiLine: null, kNum: kF2, kGbz: [], kMinus: [minusF2], kPlus: [], r: 3.1, showPsiX: false, smooth: true },
  { tag: "(f3)", tagX: 507, tagY: 793, x0: 597.6, psiBase: 849.3, psiMax: 0.252, psiLabelY: 828, kTop: 881.7, kBottom: 948.3, kDom: [-0.47, 0.46], kTicks: [0.4, -0.4], kMinor: 0.1, psi: psiF3, psiLine: null, kNum: kF3, kGbz: [], kMinus: [minusF3], kPlus: [], r: 3.1, showPsiX: false, smooth: true },
  { tag: "(f4)", tagX: 915, tagY: 793, x0: 1004, psiBase: 849.3, psiMax: 0.385, psiLabelY: 834, kTop: 880, kBottom: 949.3, kDom: [-0.76, 0.77], kTicks: [0.4, -0.4], kMinor: 0.1, psi: psiF4, psiLine: psiGbzF4, kNum: kF4, kGbz: [gbzF4], kMinus: [minusF4a, minusF4b], kPlus: [plusF4], r: 3.1, showPsiX: false, smooth: true },
];

export default function App() {
  const xa = d3.scaleLinear().domain([0, 100]).range([103, 350]);
  const ya = d3.scaleLinear().domain([0, 1]).range([182, 84]);
  const xd = d3.scaleLinear().domain([0, 100]).range([101.7, 349.3]);
  const yd = d3.scaleLinear().domain([0, 1]).range([674.3, 613.3]);
  const xb = d3.scaleLinear().domain([0, 1]).range([238.3, 331.6]);
  const yb = d3.scaleLinear().domain([0, 1]).range([386, 23]);
  const xe = d3.scaleLinear().domain([0, 1]).range([241, 288.3]);
  const ye = d3.scaleLinear().domain([0, 1]).range([868.3, 787.3]);

  return (
    <svg width={1354} height={973} style={{ position: "absolute", left: 0, top: 0, background: "#fff" }}>
      <rect x={2} y={2} width={1333} height={487} fill="none" stroke="#222" strokeWidth={1.5} />
      <rect x={2} y={490.5} width={1333} height={477} fill="none" stroke="#222" strokeWidth={1.5} />

      {/* titles */}
      <g fontFamily={SANS} fontSize={26.5} fill={TITLE}>
        <text x={12} y={36}>(a) example: almost soft OBC</text>
        <text x={16} y={272} letterSpacing={-1.3}>(b) spectrum of γ =0.7</text>
        <text x={481} y={32}>(c) wavefunction &amp; skin depth numerical</text>
        <text x={13} y={528}>(d) example: bump localization</text>
        <text x={16} y={756} letterSpacing={-1.3}>(e) spectrum of γ =0.7</text>
        <text x={487} y={527}>(f) wavefunction &amp; skin depth</text>
      </g>

      <GPanel vals={gSoft} outX={gSoftOutX} outY={gSoftOutY} x={xa} y={ya} xLeft={33} xRight={420} yTop={55}
        yTicks={[0.5, 1]} yMinor={[0.1, 0.2, 0.3, 0.4, 0.5, 0.6, 0.7, 0.8, 0.9, 1, 1.1]} sub="soft" labelX={53} labelY={112} tickBase={208} xLabelBase={203} />
      <GPanel vals={gBump} outX={gBumpOutX} outY={gBumpOutY} x={xd} y={yd} xLeft={32} xRight={419} yTop={551}
        yTicks={[1, 2]} yMinor={[0.2, 0.4, 0.6, 0.8, 1, 1.2, 1.4, 1.6, 1.8, 2]} sub="bump" labelX={57} labelY={605} tickBase={699} xLabelBase={695} />

      <Spectrum x={xb} y={yb} xAxis={[35, 442]} yAxis={[305, 470]} arcX={specBArcX} upY={specBUpperY} lowY={specBLowerY}
        realX={specBRealX} realLine={[-2.1, 2.1]} xTicks={[-2, -1, 1, 2]} xMinor={d3.range(-21, 22, 2).map((v) => v / 10)}
        yTicks={[-0.2, -0.1, 0.1, 0.2]} yMinor={d3.range(-11, 12).map((v) => v / 50)} tickBase={410}
        tags={markBTags} mx={markBX} my={markBY} tagPos={[[221, 337], [111, 375], [293, 421], [45, 375]]}
        imPos={[241, 306]} rePos={[399, 380]} legend={true} />
      <Spectrum x={xe} y={ye} xAxis={[40, 440]} yAxis={[787, 950]} arcX={specEArcX} upY={specEUpperY} lowY={specELowerY}
        realX={specERealX} realLine={[-4.1, 4.1]} xTicks={[-4, -2, 2, 4]} xMinor={d3.range(-8, 9).map((v) => v / 2)}
        yTicks={[-0.5, 0.5]} yMinor={d3.range(-10, 11).map((v) => v / 10)} tickBase={892}
        tags={markETags} mx={markEX} my={markEY} tagPos={[[243, 822], [347, 919], [288, 915], [362, 860]]}
        imPos={[242, 790]} rePos={[401, 863]} legend={false} />

      {waves.map((c) => (
        <WavePanel key={c.tag} c={c} />
      ))}

      {/* legend for (c) */}
      <g fontFamily={SANS} fontSize={23} fill={INK}>
        <circle cx={1130} cy={28} r={3.5} fill="none" stroke={GREEN} strokeWidth={1.4} />
        <text x={1156} y={30}>numerical</text>
        <line x1={1122} x2={1153} y1={49.5} y2={49.5} stroke={GREEN} strokeWidth={2} />
        <text x={1162} y={56}>GBZ</text>
        <line x1={1122} x2={1153} y1={76} y2={76} stroke={BLUE} strokeWidth={2} />
        <text x={1162} y={80}>κ<tspan fontSize={13} dy={7}>+</tspan><tspan dy={-7}> solution</tspan></text>
        <line x1={1122} x2={1153} y1={99.5} y2={99.5} stroke={RED} strokeWidth={2} />
        <text x={1162} y={105}>κ<tspan fontSize={13} dy={7}>-</tspan><tspan dy={-7}> solution</tspan></text>
      </g>
    </svg>
  );
}
